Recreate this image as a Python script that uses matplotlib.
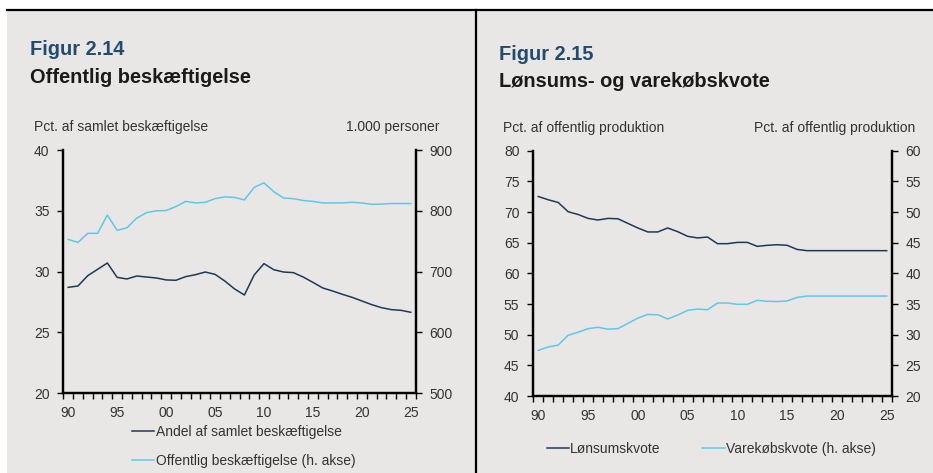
import matplotlib
matplotlib.use("Agg")
import matplotlib.pyplot as plt
from matplotlib.patches import Rectangle
from matplotlib.lines import Line2D
import numpy as np

plt.rcParams['font.family'] = ['Liberation Sans', 'DejaVu Sans']

years = list(range(1990, 2026))

andel = [28.71, 28.82, 29.67, 30.19, 30.71, 29.53, 29.40, 29.64, 29.56, 29.48,
         29.32, 29.29, 29.59, 29.75, 29.97, 29.78, 29.23, 28.58, 28.08, 29.73,
         30.66, 30.16, 29.97, 29.92, 29.56, 29.12, 28.66, 28.41, 28.14, 27.89,
         27.59, 27.29, 27.04, 26.88, 26.82, 26.66]

offentlig = [753, 748, 763, 763, 793, 768, 772, 788, 797, 800,
             800.5, 807, 815.5, 813, 814, 820, 823, 822, 818, 838.5,
             846, 831.5, 821, 820, 817, 815.5, 813, 813, 813, 814,
             813, 810.7, 811, 812, 812, 812]

lonsum = [72.53, 72.0, 71.56, 70.05, 69.6, 68.96, 68.7, 68.96, 68.9, 68.15,
          67.4, 66.75, 66.75, 67.4, 66.8, 66.04, 65.78, 65.92, 64.84, 64.84,
          65.05, 65.05, 64.4, 64.57, 64.67, 64.57, 63.9, 63.7, 63.7, 63.7,
          63.7, 63.7, 63.7, 63.7, 63.7, 63.7]

varekob = [27.44, 28.0, 28.3, 29.9, 30.4, 30.98, 31.2, 30.9, 30.98, 31.84,
           32.7, 33.3, 33.25, 32.56, 33.2, 33.96, 34.18, 34.07, 35.16, 35.16,
           34.95, 34.95, 35.6, 35.44, 35.4, 35.5, 36.08, 36.3, 36.3, 36.3,
           36.3, 36.3, 36.3, 36.3, 36.3, 36.3]

xtick_years = [1990, 1995, 2000, 2005, 2010, 2015, 2020, 2025]
xtick_labels = ['90', '95', '00', '05', '10', '15', '20', '25']

DARK = '#1d3a57'
LIGHT = '#5ec8ea'
BG = '#e8e7e5'
TITLE_BLUE = '#234b6e'
TXT = '#333333'

W, H = 933, 473
fig = plt.figure(figsize=(W / 100, H / 100), dpi=100)
fig.patch.set_facecolor('white')


def fx(px):
    return px / W


def fy(py):
    return 1 - py / H


# panel backgrounds and frame lines
fig.patches.append(Rectangle((fx(7), 0), fx(933 - 7), fy(10), transform=fig.transFigure,
                             facecolor=BG, edgecolor='none', zorder=-5))
fig.lines.append(Line2D([fx(7), 1], [fy(10), fy(10)], transform=fig.transFigure,
                        color='black', lw=1.6, zorder=-4))
fig.lines.append(Line2D([fx(476), fx(476)], [0, fy(10)], transform=fig.transFigure,
                        color='black', lw=1.6, zorder=-4))


def make_axes(x0, x1, y0, y1):
    ax = fig.add_axes([fx(x0), fy(y1), fx(x1 - x0), (y1 - y0) / H])
    ax.set_facecolor('none')
    ax2 = ax.twinx()
    for a in (ax, ax2):
        a.set_facecolor('none')
        a.spines['top'].set_visible(False)
        for s in ('left', 'right', 'bottom'):
            a.spines[s].set_linewidth(1.6)
            a.spines[s].set_color('black')
    ax.set_xlim(1989.5, 2025.5)
    ax.set_xticks(xtick_years)
    ax.set_xticklabels(xtick_labels)
    ax.set_xticks(np.arange(1989.5, 2026, 1.0), minor=True)
    ax.tick_params(axis='x', which='major', length=0, pad=9, labelsize=10, labelcolor=TXT)
    ax.tick_params(axis='x', which='minor', length=4, width=1, direction='out', color='black')
    ax.tick_params(axis='y', length=4, width=1, direction='out', pad=6, labelsize=10,
                   labelcolor=TXT)
    ax2.tick_params(axis='y', length=4, width=1, direction='out', pad=6, labelsize=10,
                    labelcolor=TXT)
    return ax, ax2


# ---------- Left chart ----------
axL, axL2 = make_axes(63.3, 415.7, 150, 393.3)
axL.plot(years, andel, color=DARK, lw=1.1, zorder=3)
axL2.plot(years, offentlig, color=LIGHT, lw=1.1, zorder=3)
axL.set_ylim(20, 40)
axL.set_yticks([20, 25, 30, 35, 40])
axL2.set_ylim(500, 900)
axL2.set_yticks([500, 600, 700, 800, 900])

fig.text(fx(30), fy(55), 'Figur 2.14', fontsize=14.4, fontweight='bold', color=TITLE_BLUE,
         va='baseline', ha='left')
fig.text(fx(30), fy(82.7), 'Offentlig beskæftigelse', fontsize=14.4, fontweight='bold',
         color='#1a1a1a', va='baseline', ha='left')
fig.text(fx(34), fy(127), 'Pct. af samlet beskæftigelse', fontsize=10, color=TXT,
         va='center', ha='left')
fig.text(fx(440), fy(127), '1.000 personer', fontsize=10, color=TXT, va='center', ha='right')

hL = [Line2D([], [], color=DARK, lw=1.1), Line2D([], [], color=LIGHT, lw=1.1)]
fig.legend(hL, ['Andel af samlet beskæftigelse', 'Offentlig beskæftigelse (h. akse)'],
           loc='upper left', bbox_to_anchor=(fx(132), fy(425)), frameon=False,
           fontsize=10, handlelength=1.6, handletextpad=0.15, borderpad=0,
           borderaxespad=0, labelspacing=1.05, labelcolor=TXT)

# ---------- Right chart ----------
axR, axR2 = make_axes(533.3, 891.7, 150.7, 396)
axR.plot(years, lonsum, color=DARK, lw=1.1, zorder=3)
axR2.plot(years, varekob, color=LIGHT, lw=1.1, zorder=3)
axR.set_ylim(40, 80)
axR.set_yticks(list(range(40, 81, 5)))
axR2.set_ylim(20, 60)
axR2.set_yticks(list(range(20, 61, 5)))

fig.text(fx(499.3), fy(60), 'Figur 2.15', fontsize=14.4, fontweight='bold', color=TITLE_BLUE,
         va='baseline', ha='left')
fig.text(fx(499.3), fy(87.3), 'Lønsums- og varekøbskvote', fontsize=14.4, fontweight='bold',
         color='#1a1a1a', va='baseline', ha='left')
fig.text(fx(503.3), fy(127.7), 'Pct. af offentlig produktion', fontsize=10, color=TXT,
         va='center', ha='left')
fig.text(fx(915.7), fy(127.7), 'Pct. af offentlig produktion', fontsize=10, color=TXT,
         va='center', ha='right')

hR = [Line2D([], [], color=DARK, lw=1.1), Line2D([], [], color=LIGHT, lw=1.1)]
fig.legend(hR, ['Lønsumskvote', 'Varekøbskvote (h. akse)'],
           loc='upper left', bbox_to_anchor=(fx(546.7), fy(441.5)), frameon=False, ncol=2,
           fontsize=10, handlelength=1.6, handletextpad=0.1, borderpad=0,
           borderaxespad=0, columnspacing=3.0, labelcolor=TXT)

fig.savefig('out.png', dpi=100, facecolor=fig.get_facecolor())
